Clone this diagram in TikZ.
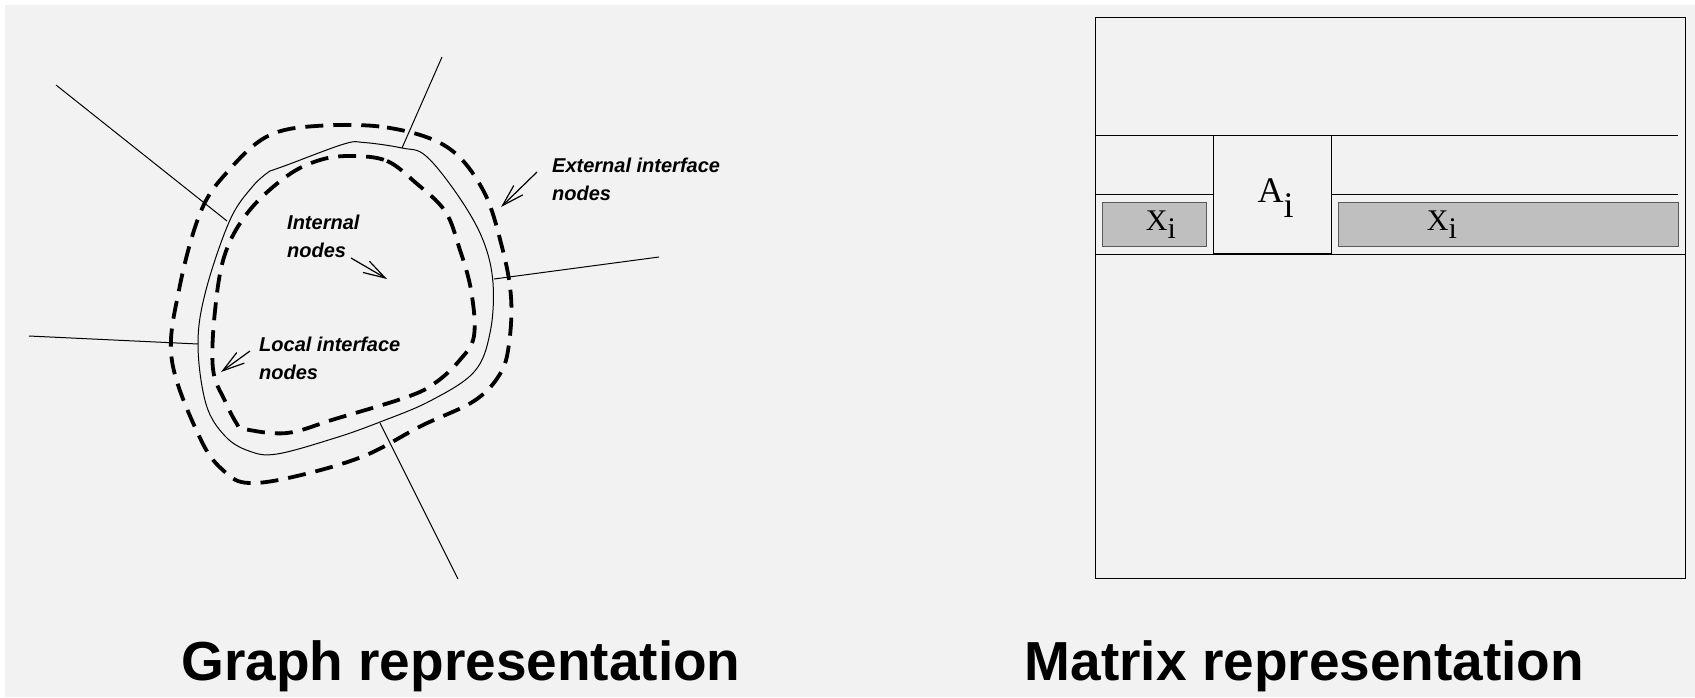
\documentclass[tikz,border=0pt]{standalone}
\usepackage{fontspec}
\setmainfont{Liberation Sans}
\newfontfamily\matfont{Liberation Serif}
\usetikzlibrary{arrows.meta}
\definecolor{paper}{HTML}{F2F2F2}
\definecolor{bargray}{HTML}{BFBFBF}

\tikzset{
    spoke/.style={line width=1pt},
    halo/.style={line width=3.8pt, dash pattern=on 18pt off 10pt},
    lbl/.style={font=\fontsize{20}{28}\selectfont\bfseries\itshape, align=left, anchor=base west, inner sep=0pt},
    pointer/.style={line width=1.2pt, -{Straight Barb[length=22pt,width=13pt]}},
    caption/.style={font=\fontsize{55}{66}\selectfont\bfseries, anchor=base, inner sep=0pt},
    cell/.style={draw, line width=1.2pt, inner sep=0pt, anchor=north west},
    xbar/.style={draw=black!65, fill=bargray, line width=1.2pt, inner sep=0pt, anchor=north west},
    entry/.style={font=\matfont, anchor=base west, inner sep=0pt},
}

\begin{document}
\begin{tikzpicture}[x=1pt, y=-1pt]
    \fill[white] (0,0) rectangle (1695,697);
    \fill[paper] (5,5) rectangle (1695,697);
    \useasboundingbox (0,0) rectangle (1695,697);

    % graph side
    \coordinate (ul1) at (56,85);    \coordinate (ul2) at (227,221);
    \coordinate (top1) at (442,57);  \coordinate (top2) at (402,148);
    \coordinate (rt1) at (659,257);  \coordinate (rt2) at (494,279);
    \coordinate (lf1) at (29,336);   \coordinate (lf2) at (198,344);
    \coordinate (bt1) at (458,579);  \coordinate (bt2) at (380,423);

    \draw[spoke] (ul1) -- (ul2); \draw[spoke] (top1) -- (top2); \draw[spoke] (rt1) -- (rt2);
    \draw[spoke] (lf1) -- (lf2); \draw[spoke] (bt1) -- (bt2);

    \draw[spoke] plot[smooth, tension=0.6] coordinates {(270,171) (287,165) (344,144) (364,142.5) (402,148) (426,156) (459,197) (483,240) (493,283) (490,333) (474,372) (430,401) (380,422) (335,438) (277,454) (249,451) (225,436) (206,404) (198,344) (206,290) (230,220) (253,186) (270,171)};

    \draw[halo] plot[smooth cycle, tension=0.6] coordinates {(316,126) (387,127.5) (447,147) (483,190) (502,247) (511,297) (509,344) (500,374) (474,401) (421,426) (364,456) (297,476) (249,483) (225,472) (201,440) (172,361) (179,290) (201,211) (230,169) (268,136)};
    \draw[halo] plot[smooth cycle, tension=0.6] coordinates {(352,156) (387,161) (416,183) (445,211) (459,247) (471,290) (474,336) (459,361) (435,383) (407,397) (335,419) (287,433) (244,429) (237,424) (225,401) (213,369) (215,311) (225,254) (249,211) (287,176) (320,160)};

    \node[lbl] (extlbl) at (552,200) {External interface\\nodes};
    \node[lbl] (intlbl) at (287,257) {Internal\\nodes};
    \node[lbl] (loclbl) at (259,379) {Local interface\\nodes};

    \coordinate (exttail) at (537,172); \coordinate (exthead) at (501,207);
    \coordinate (inttail) at (351,258); \coordinate (inthead) at (387,279);
    \coordinate (loctail) at (250,351); \coordinate (lochead) at (221,372);
    \draw[pointer] (exttail) -- (exthead); \draw[pointer] (inttail) -- (inthead); \draw[pointer] (loctail) -- (lochead);

    % matrix side
    \node[cell, minimum width=590.5pt, minimum height=561pt] (mat) at (1094.5,17) {};
    \node[cell, minimum width=117.6pt, minimum height=118pt] (Ablk) at (1213,135) {};
    \node[xbar, minimum width=104pt, minimum height=44.3pt] (xleft) at (1101.6,201.7) {};
    \node[xbar, minimum width=340.3pt, minimum height=44.3pt] (xright) at (1337.7,201.7) {};

    \coordinate (rowtopend) at (1678,135);
    \coordinate (rowmidend) at (1678,194.4);
    \draw[spoke] (mat.west |- Ablk.north) -- (rowtopend);
    \draw[spoke] (mat.west |- rowmidend) -- (Ablk.west |- rowmidend);
    \draw[spoke] (Ablk.east |- rowmidend) -- (rowmidend);
    \draw[spoke] (mat.west |- Ablk.south) -- (mat.east |- Ablk.south);

    \node[entry, font=\matfont\fontsize{36}{40}\selectfont] (Alabel) at (1257.3,202) {A\raisebox{-15pt}{i}};
    \node[entry, font=\matfont\fontsize{30}{34}\selectfont] (xllabel) at (1145.7,230.7) {X\raisebox{-8pt}{i}};
    \node[entry, font=\matfont\fontsize{30}{34}\selectfont] (xrlabel) at (1426.7,230.7) {X\raisebox{-8pt}{i}};

    \node[caption] (graphcap) at (461,680) {Graph representation};
    \node[caption] (matcap) at (1304.5,680) {Matrix representation};
\end{tikzpicture}
\end{document}
